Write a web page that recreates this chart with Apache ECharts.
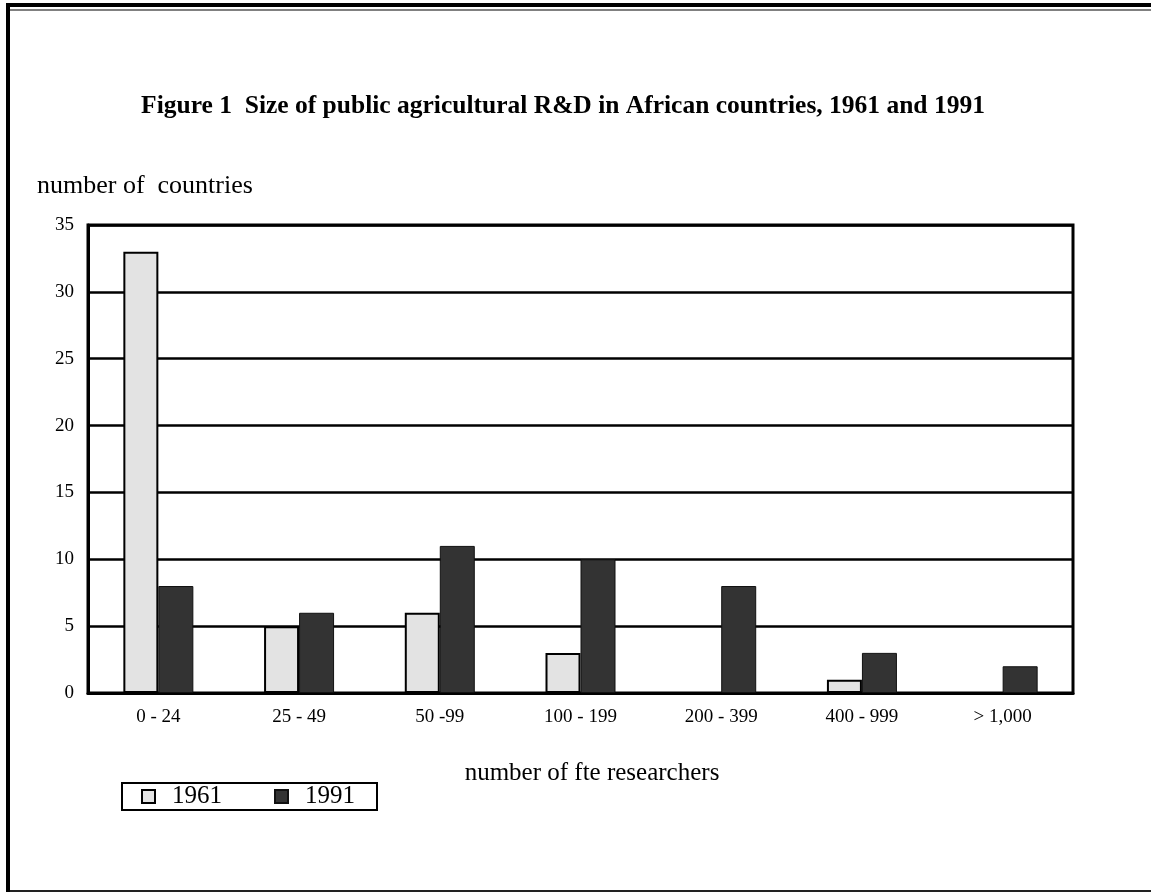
<!DOCTYPE html>
<html><head><meta charset="utf-8">
<script src="https://cdn.jsdelivr.net/npm/echarts@6/dist/echarts.min.js"></script>
<style>html,body{margin:0;padding:0;background:#fff}#c{width:1151px;height:892px}</style>
</head><body><div id="c"></div>
<script>
const categories = ['0 - 24','25 - 49','50 -99','100 - 199','200 - 399','400 - 999','> 1,000'];
const values1961 = [33, 5, 6, 3, null, 1, null];
const values1991 = [8, 6, 11, 10, 8, 3, 2];
const yTicks = {min: 0, max: 35, interval: 5};
const serif = '"Liberation Serif","DejaVu Serif",serif';
const chart = echarts.init(document.getElementById('c'));
chart.setOption({
  animation: false,
  backgroundColor: '#fff',
  title: {
    text: 'Figure 1  Size of public agricultural R&D in African countries, 1961 and 1991',
    left: 558, textAlign: 'center', top: 88,
    textStyle: {fontFamily: serif, fontWeight: 'bold', fontSize: 25.5, color: '#000'}
  },
  graphic: [
    {type: 'rect', shape: {x: 6, y: 3, width: 1145, height: 4}, style: {fill: '#000'}},
    {type: 'rect', shape: {x: 10, y: 9, width: 1141, height: 2}, style: {fill: '#808080'}},
    {type: 'rect', shape: {x: 6, y: 3, width: 4, height: 889}, style: {fill: '#000'}},
    {type: 'rect', shape: {x: 10, y: 890, width: 1141, height: 2}, style: {fill: '#222'}},
    {type: 'text', x: 37, y: 186, style: {text: 'number of  countries', font: '26px ' + serif, fill: '#000', verticalAlign: 'middle'}},
    {type: 'text', x: 592, y: 773, style: {text: 'number of fte researchers', font: '25px ' + serif, fill: '#000', align: 'center', verticalAlign: 'middle'}}
  ],
  legend: {
    left: 122, top: 783,
    data: ['1961', '1991'],
    icon: 'rect', itemWidth: 13, itemHeight: 13, itemGap: 52,
    padding: [1, 22, 1, 19],
    borderColor: '#000', borderWidth: 2,
    textStyle: {fontFamily: serif, fontSize: 25, color: '#000', padding: [0, 0, 0, 12], lineHeight: 25}
  },
  grid: {left: 88, right: 78, top: 225, bottom: 199, show: true, borderColor: '#000', borderWidth: 3},
  xAxis: {
    type: 'category', data: categories,
    axisLine: {lineStyle: {color: '#000', width: 3}},
    axisTick: {show: false},
    axisLabel: {fontFamily: serif, fontSize: 19, color: '#000', margin: 15}
  },
  yAxis: {
    type: 'value', min: yTicks.min, max: yTicks.max, interval: yTicks.interval,
    axisLine: {show: true, lineStyle: {color: '#000', width: 3}},
    axisTick: {show: false},
    splitLine: {lineStyle: {color: '#000', width: 2.5}},
    axisLabel: {fontFamily: serif, fontSize: 19, color: '#000', margin: 14}
  },
  series: [
    {name: '1961', type: 'bar', data: values1961, barWidth: 35, barGap: '0%',
     itemStyle: {color: '#e3e3e3', borderColor: '#000', borderWidth: 2}},
    {name: '1991', type: 'bar', data: values1991, barWidth: 35,
     itemStyle: {color: '#333333', borderColor: '#111', borderWidth: 1}}
  ]
});
</script></body></html>
